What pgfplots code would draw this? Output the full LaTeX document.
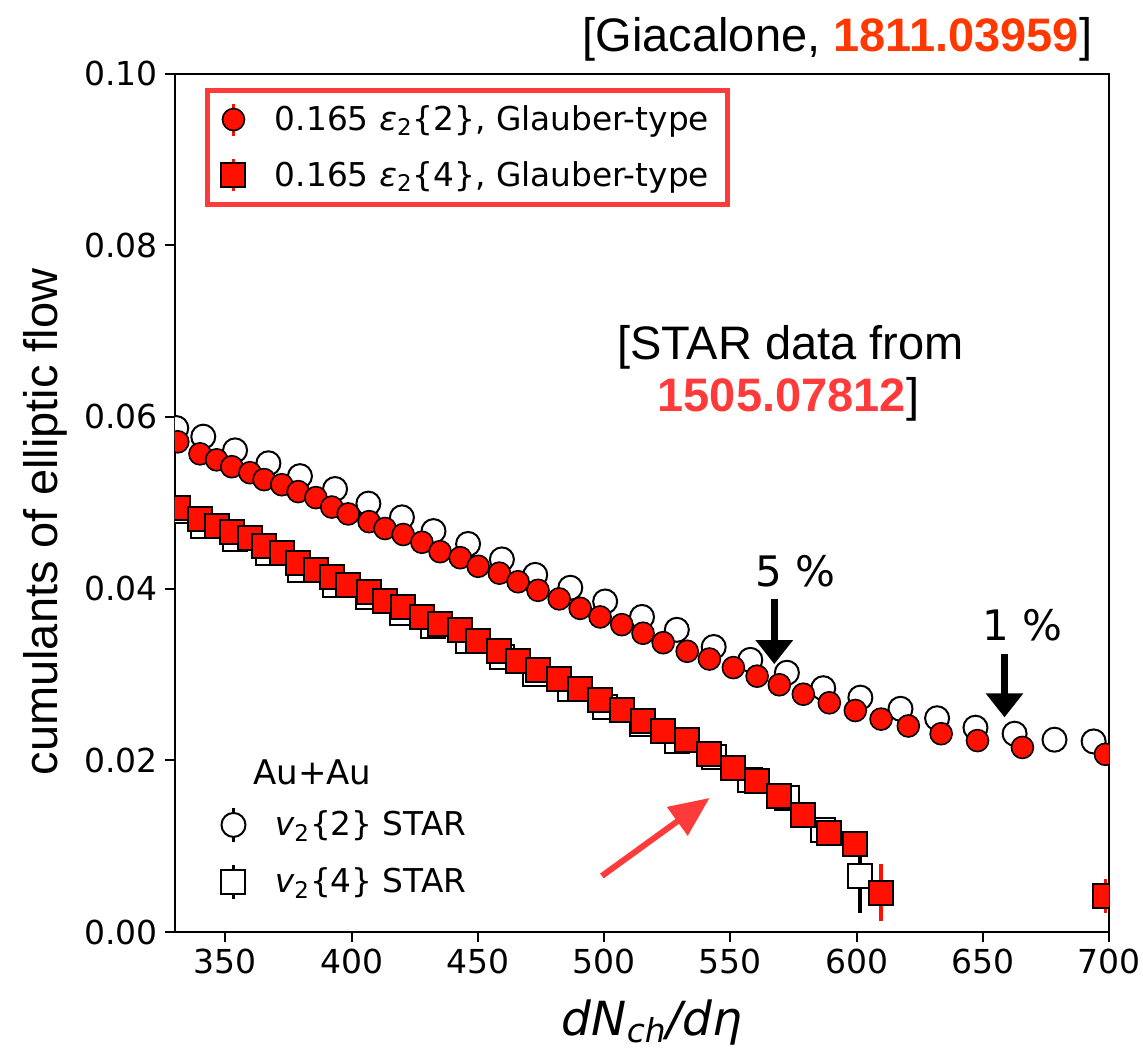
\documentclass[border=0pt]{standalone}
\usepackage{fontspec}
\setmainfont{DejaVu Sans}
\newfontfamily\arial{Liberation Sans}
\usepackage{pgfplots}
\pgfplotsset{compat=1.18}
\usepackage{pgfplotstable}
\usetikzlibrary{arrows.meta}
\definecolor{markred}{RGB}{255,16,0}
\definecolor{boxred}{RGB}{255,58,58}
\definecolor{cA}{RGB}{255,56,0}
\definecolor{cB}{RGB}{255,58,58}

\pgfplotstableread{
x y
330.5 0.0587
341.2 0.0577
353.8 0.0561
367.0 0.0546
379.5 0.0531
393.4 0.0516
406.6 0.0499
419.9 0.0483
432.4 0.0467
446.1 0.0452
459.5 0.0434
472.7 0.0416
486.6 0.0401
500.4 0.0385
515.0 0.0367
528.8 0.0352
543.4 0.0332
557.9 0.0317
572.4 0.0302
586.8 0.0284
601.5 0.0273
617.4 0.0260
631.9 0.0249
647.1 0.0238
662.6 0.0231
678.4 0.0224
693.9 0.0222
}\startwtwo

\pgfplotstableread{
x y err
330.5 0.0490 0
341.2 0.0473 0
353.8 0.0458 0
367.0 0.0441 0
379.5 0.0422 0
393.4 0.0404 0
406.6 0.0390 0
419.9 0.0372 0
432.4 0.0356 0
446.1 0.0339 0
459.5 0.0320 0
472.7 0.0301 0
486.6 0.0283 0
500.4 0.0262 0
515.0 0.0242 0
528.8 0.0222 0
543.4 0.0204 0
557.9 0.0177 0
572.4 0.0156 0
586.8 0.0119 0
601.5 0.0065 0.0043
}\starvfour

\pgfplotstableread{
x y
331.1 0.0571
339.9 0.0557
346.5 0.0550
352.5 0.0542
359.7 0.0535
365.3 0.0527
372.3 0.0521
378.8 0.0513
385.8 0.0506
392.1 0.0495
398.6 0.0487
406.9 0.0478
413.2 0.0470
420.4 0.0463
427.8 0.0454
435.0 0.0443
443.0 0.0436
450.1 0.0426
458.5 0.0418
465.9 0.0408
473.8 0.0398
482.2 0.0388
490.5 0.0377
498.4 0.0367
507.0 0.0358
515.4 0.0348
523.4 0.0337
532.9 0.0327
541.7 0.0318
551.2 0.0308
560.6 0.0298
569.4 0.0288
578.9 0.0277
589.2 0.0267
599.5 0.0258
609.7 0.0248
620.5 0.0240
633.5 0.0231
647.9 0.0223
665.7 0.0215
698.6 0.0207
}\modeltwo

\pgfplotstableread{
x y err
331.1 0.0494 0
339.9 0.0481 0
346.5 0.0473 0
352.5 0.0466 0
359.7 0.0459 0
365.3 0.0450 0
372.3 0.0442 0
378.8 0.0430 0
385.8 0.0422 0
392.1 0.0413 0
398.6 0.0404 0
406.9 0.0396 0
413.2 0.0386 0
420.4 0.0378 0
427.8 0.0367 0
435.0 0.0359 0
443.0 0.0352 0
450.1 0.0339 0
458.5 0.0327 0
465.9 0.0316 0
473.8 0.0305 0
482.2 0.0295 0
490.5 0.0283 0
498.4 0.0270 0
507.0 0.0259 0
515.4 0.0246 0
523.4 0.0234 0
532.9 0.0224 0
541.7 0.0207 0
551.2 0.0191 0
560.6 0.0176 0
569.4 0.0158 0
578.9 0.0136 0
589.2 0.0115 0
599.5 0.0103 0
609.7 0.0046 0.0033
698.6 0.0042 0.0020
}\modelfour

\begin{document}
\begin{tikzpicture}
\begin{axis}[
  name=ax,
  width=467pt, height=429.25pt, scale only axis,
  xmin=330, xmax=700, ymin=0, ymax=0.1,
  xtick={350,400,450,500,550,600,650,700},
  ytick={0,0.02,0.04,0.06,0.08,0.1},
  scaled y ticks=false,
  /pgf/number format/assume math mode=true,
  y tick label style={/pgf/number format/fixed, /pgf/number format/fixed zerofill, /pgf/number format/precision=2},
  x tick label style={/pgf/number format/1000 sep={}},
  tick label style={font=\fontsize{16.5}{20}\selectfont},
  tick align=outside, xtick pos=left, ytick pos=left,
  major tick length=5pt,
  major tick style={line width=1pt, black},
  axis line style={line width=1pt},
  clip mode=individual, clip marker paths=true,
  xlabel={\itshape dN\textsubscript{ch}/dη},
  xlabel style={font=\fontsize{23.5}{28}\selectfont, at={(axis description cs:0.5107,-0.12)}, anchor=base, inner sep=0pt},
  ylabel={cumulants of elliptic flow},
  ylabel style={font=\arial\fontsize{23.5}{28}\selectfont, at={(axis description cs:-0.1146,0.4776)}, anchor=south, inner sep=0pt},
  legend style={at={(axis description cs:0.0321,0.983)}, anchor=north west,
    draw=boxred, line width=2.5pt, font=\fontsize{16.4}{19}\selectfont,
    row sep=10pt, inner xsep=7pt, inner ysep=5.5pt, cells={anchor=west}},
]
\addplot[only marks, mark=*, mark size=6pt, mark options={line width=1pt, draw=black, fill=white}, forget plot] table[x=x,y=y] {\startwtwo};
\addplot[only marks, mark=square*, mark size=6pt, mark options={line width=1pt, draw=black, fill=white}, forget plot,
  error bars/.cd, y dir=both, y explicit, error mark=none, error bar style={line width=2pt, black}] table[x=x,y=y,y error=err] {\starvfour};
\addplot[only marks, mark=*, mark size=5.5pt, mark options={line width=0.8pt, draw=black, fill=markred},
  legend image code/.code={\path (0.3cm+17.5pt,0pt); \draw[markred, line width=1.6pt] (0.3cm,-8pt)--(0.3cm,8pt); \draw[mark repeat=2,mark phase=2] plot coordinates {(0cm,0cm) (0.3cm,0cm) (0.6cm,0cm)};}] table[x=x,y=y] {\modeltwo};
\addlegendentry{0.165 {\itshape ε}\textsubscript{2}\{2\}, Glauber-type}
\addplot[only marks, mark=square*, mark size=6pt, mark options={line width=1pt, draw=black, fill=markred},
  legend image code/.code={\path (0.3cm+17.5pt,0pt); \draw[markred, line width=1.6pt] (0.3cm,-8pt)--(0.3cm,8pt); \draw[mark repeat=2,mark phase=2] plot coordinates {(0cm,0cm) (0.3cm,0cm) (0.6cm,0cm)};},
  error bars/.cd, y dir=both, y explicit, error mark=none, error bar style={line width=1.6pt, markred}] table[x=x,y=y,y error=err] {\modelfour};
\addlegendentry{0.165 {\itshape ε}\textsubscript{2}\{4\}, Glauber-type}

\node[anchor=base east, inner sep=0pt, font=\arial\fontsize{23.5}{28}\selectfont] at (axis cs:693.5,0.10256) {[Giacalone, \textcolor{cA}{\bfseries 1811.03959}]};
\node[anchor=base, inner sep=0pt, font=\arial\fontsize{23.5}{28}\selectfont] at (axis cs:573.8,0.06667) {[STAR data from};
\node[anchor=base, inner sep=0pt, font=\arial\fontsize{23.5}{28}\selectfont] at (axis cs:573.0,0.0606) {\textcolor{cB}{\bfseries 1505.07812}]};
\node[anchor=base, inner sep=0pt, font=\fontsize{21}{25}\selectfont] at (axis cs:575.8,0.0403) {5 \%};
\node[anchor=base, inner sep=0pt, font=\fontsize{21}{25}\selectfont] at (axis cs:665.9,0.0339) {1 \%};
\draw[-{Triangle[length=12pt,width=18pt]}, line width=3.5pt] (axis cs:567.4,0.0388) -- (axis cs:567.4,0.0312);
\draw[-{Triangle[length=12pt,width=18pt]}, line width=3.5pt] (axis cs:658.6,0.0324) -- (axis cs:658.6,0.0250);
\draw[-{Triangle[length=20pt,width=17pt]}, line width=3pt, boxred] (axis cs:499.1,0.00653) -- (axis cs:541.8,0.01562);
\node[anchor=base west, inner sep=0pt, font=\fontsize{17}{20}\selectfont] at (axis cs:360.9,0.01713) {Au+Au};
\end{axis}
\begin{axis}[
  at={(ax.south west)}, anchor=south west,
  width=467pt, height=429.25pt, scale only axis, hide axis,
  xmin=0, xmax=1, ymin=0, ymax=1,
  legend style={at={(axis description cs:0.0321,0.162)}, anchor=north west,
    draw=none, fill=none, line width=2.5pt, font=\fontsize{16.4}{19}\selectfont,
    row sep=10pt, inner xsep=7pt, inner ysep=5.5pt, cells={anchor=west}},
]
\addlegendimage{only marks, mark=*, mark size=6pt, mark options={line width=1pt, draw=black, fill=white},
  legend image code/.code={\path (0.3cm+17.5pt,0pt); \draw[black, line width=1.5pt] (0.3cm,-8.5pt)--(0.3cm,8.5pt); \draw[mark repeat=2,mark phase=2] plot coordinates {(0cm,0cm) (0.3cm,0cm) (0.6cm,0cm)};}}
\addlegendentry{{\itshape v}\textsubscript{2}\{2\} STAR}
\addlegendimage{only marks, mark=square*, mark size=6pt, mark options={line width=1pt, draw=black, fill=white},
  legend image code/.code={\path (0.3cm+17.5pt,0pt); \draw[black, line width=1.5pt] (0.3cm,-8.5pt)--(0.3cm,8.5pt); \draw[mark repeat=2,mark phase=2] plot coordinates {(0cm,0cm) (0.3cm,0cm) (0.6cm,0cm)};}}
\addlegendentry{{\itshape v}\textsubscript{2}\{4\} STAR}
\end{axis}
\pgfresetboundingbox
\path[use as bounding box] ([xshift=-87.5pt,yshift=-62.5pt]ax.south west) rectangle ([xshift=17pt,yshift=36.75pt]ax.north east);
\end{tikzpicture}
\end{document}
